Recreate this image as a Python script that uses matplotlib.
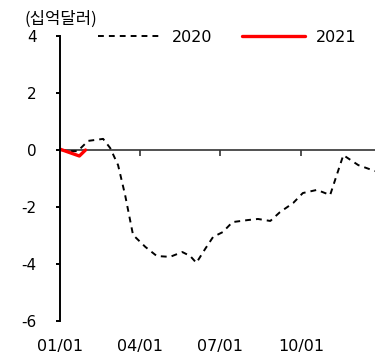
import numpy as np
import pandas as pd
import matplotlib
matplotlib.use('Agg')
import matplotlib.pyplot as plt

plt.rcParams['font.family'] = ['DejaVu Sans', 'Noto Sans CJK KR']

# 2020 series (MM/DD, value in 십억달러)
dates_2020 = ['01/01', '01/12', '01/21', '02/02', '02/19', '02/27', '03/07', '03/15',
              '03/24', '04/07', '04/20', '05/05', '05/19', '05/28', '06/04', '06/14',
              '06/23', '07/04', '07/15', '08/01', '08/13', '08/27', '09/07', '09/22',
              '10/03', '10/19', '11/03', '11/18', '12/05', '12/24']
vals_2020 = [0.0, -0.04, -0.04, 0.32, 0.39, 0.07, -0.53, -1.58,
             -2.98, -3.40, -3.72, -3.75, -3.58, -3.72, -3.96, -3.47,
             -3.05, -2.88, -2.53, -2.46, -2.42, -2.49, -2.18, -1.86,
             -1.51, -1.40, -1.58, -0.18, -0.53, -0.74]

# 2021 series
dates_2021 = ['01/01', '01/11', '01/23', '01/30']
vals_2021 = [0.03, -0.08, -0.21, 0.0]

xtick_labels = ['01/01', '04/01', '07/01', '10/01']
yticks = [4, 2, 0, -2, -4, -6]


def day_of_year(md):
    return [pd.Timestamp('2020/' + s).dayofyear - 1 for s in md]


fig = plt.figure(figsize=(3.75, 3.57), dpi=100)
ax = fig.add_axes([60 / 375, 36 / 357, 315 / 375, 285 / 357])

ax.plot(day_of_year(dates_2020), vals_2020, color='black', lw=1.4,
        linestyle=(0, (3, 2.6)), label='2020')
ax.plot(day_of_year(dates_2021), vals_2021, color='#ff0000', lw=2.4,
        solid_capstyle='round', label='2021')

ax.set_xlim(0, 358)
ax.set_ylim(-6, 4)

for s in ['top', 'right', 'bottom']:
    ax.spines[s].set_visible(False)
ax.spines['left'].set_linewidth(1.4)
ax.set_yticks(yticks)
ax.set_yticklabels([str(v) for v in yticks])
ax.tick_params(axis='y', direction='out', length=3, width=1.4, pad=14, labelsize=11)

ax.set_xticks(day_of_year(xtick_labels))
ax.set_xticklabels(xtick_labels)
ax.tick_params(axis='x', length=0, pad=13, labelsize=11.5)

# zero line with ticks
sec = ax.secondary_xaxis(0.6)
sec.set_alignment('bottom')
sec.spines['bottom'].set_linewidth(1.2)
sec.spines['bottom'].set_color('#333333')
sec.set_xticks(day_of_year(xtick_labels[1:]))
sec.tick_params(axis='x', direction='out', length=4, width=1.2, labelbottom=False, color='#333333')

fig.text(25 / 375, 1 - 19 / 357, '(십억달러)', fontsize=12, va='center', ha='left',
         family=['Noto Sans CJK KR', 'DejaVu Sans'])

fig.legend(loc='center left', bbox_to_anchor=(98 / 375, 1 - 37 / 357), ncol=2,
           frameon=False, fontsize=11.5, handlelength=3.9, handletextpad=0.7,
           columnspacing=1.9, borderpad=0, borderaxespad=0)

fig.savefig('out.png', dpi=100)
